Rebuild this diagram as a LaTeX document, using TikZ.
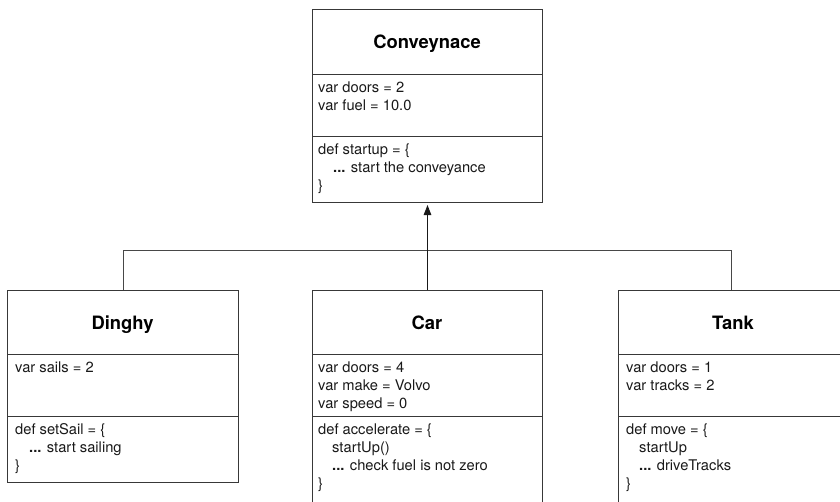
\documentclass[tikz,border=0pt]{standalone}
\usepackage{fontspec}
\setmainfont{TeX Gyre Heros}
\usetikzlibrary{arrows.meta}
\tikzset{
  umlbox/.style={draw=black!78, line width=1pt, rectangle, inner sep=0pt, anchor=north west},
  divider/.style={draw=black!78, line width=1pt},
  ttl/.style={font=\fontsize{18.4}{22}\selectfont\bfseries, anchor=base, inner sep=0pt},
  txt/.style={font=\fontsize{14.7}{18}\selectfont, anchor=base west, inner sep=0pt, text=black!90},
  conn/.style={draw=black!72, line width=1pt},
}
\begin{document}
\begin{tikzpicture}[x=1pt,y=-1pt]
\useasboundingbox (0,0) rectangle (840,501);
\clip (0,0) rectangle (840,501);
% Conveyance
\node[umlbox, minimum width=230pt, minimum height=193pt] (conv) at (312,9) {};
\draw[divider] (312,74) -- (542,74);
\draw[divider] (312,136) -- (542,136);
\node[ttl] (convt) at (427,48) {Conveynace};
\node[txt] (ca1) at (318,92) {var doors = 2};
\node[txt] (ca2) at (318,110) {var fuel = 10.0};
\node[txt] (cm1) at (318,154) {def startup = \{};
\node[txt] (cm2) at (333,172) {\textbf{...} start the conveyance};
\node[txt] (cm3) at (318,190) {\}};
% Dinghy
\node[umlbox, minimum width=231pt, minimum height=192pt] (dinghy) at (7,290) {};
\draw[divider] (7,354) -- (238,354);
\draw[divider] (7,416) -- (238,416);
\node[ttl] (dt) at (122.5,329) {Dinghy};
\node[txt] (da1) at (15,372) {var sails = 2};
\node[txt] (dm1) at (15,434) {def setSail = \{};
\node[txt] (dm2) at (29,452) {\textbf{...} start sailing};
\node[txt] (dm3) at (15,470) {\}};
% Car
\node[umlbox, minimum width=230pt, minimum height=240pt] (car) at (312,290) {};
\draw[divider] (312,354) -- (542,354);
\draw[divider] (312,416) -- (542,416);
\node[ttl] (cart) at (427,329) {Car};
\node[txt] (ra1) at (318,372) {var doors = 4};
\node[txt] (ra2) at (318,390) {var make = Volvo};
\node[txt] (ra3) at (318,408) {var speed = 0};
\node[txt] (rm1) at (318,434) {def accelerate = \{};
\node[txt] (rm2) at (332,452) {startUp()};
\node[txt] (rm3) at (332,470) {\textbf{...} check fuel is not zero};
\node[txt] (rm4) at (318,488) {\}};
% Tank
\node[umlbox, minimum width=230pt, minimum height=240pt] (tank) at (618,290) {};
\draw[divider] (618,354) -- (848,354);
\draw[divider] (618,416) -- (848,416);
\node[ttl] (tankt) at (733,329) {Tank};
\node[txt] (ta1) at (626,372) {var doors = 1};
\node[txt] (ta2) at (626,390) {var tracks = 2};
\node[txt] (tm1) at (626,434) {def move = \{};
\node[txt] (tm2) at (639,452) {startUp};
\node[txt] (tm3) at (639,470) {\textbf{...} driveTracks};
\node[txt] (tm4) at (626,488) {\}};
% connectors
\coordinate (bus) at (427,250.5);
\coordinate (dtop) at (123,290);
\coordinate (ttop) at (731,290);
\draw[conn] (dtop) -- (dtop |- bus) -- (ttop |- bus) -- (ttop);
\draw[line width=1pt, draw=black!90, -{Triangle[length=10pt,width=7.5pt]}, shorten >=2pt] (car.north) -- (conv.south);
\end{tikzpicture}
\end{document}
